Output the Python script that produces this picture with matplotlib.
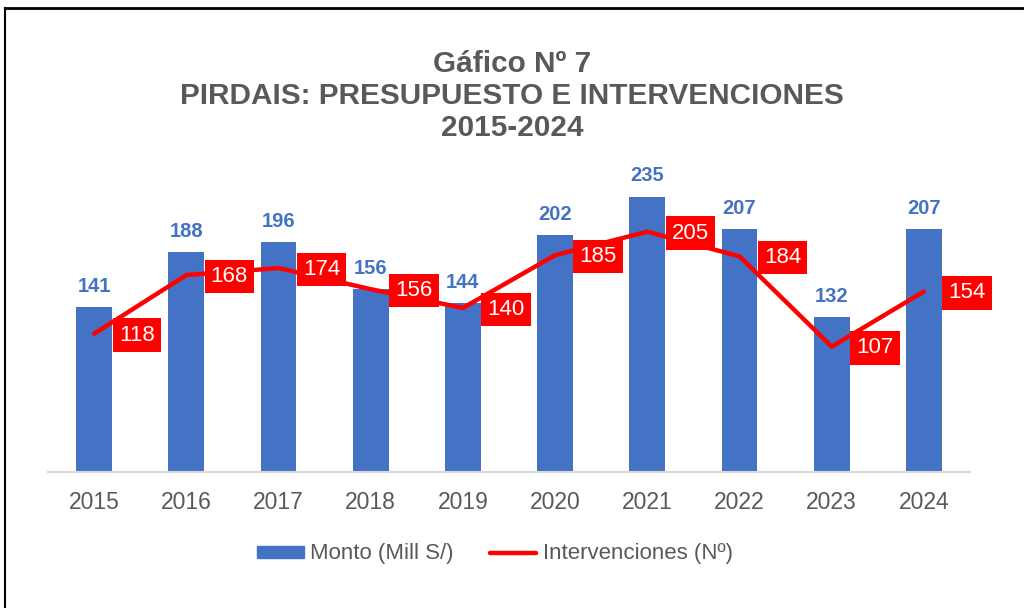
import matplotlib
matplotlib.use("Agg")
import matplotlib.pyplot as plt
from matplotlib.lines import Line2D

plt.rcParams['font.family'] = ['Liberation Sans', 'DejaVu Sans']

# data
years = ['2015', '2016', '2017', '2018', '2019', '2020', '2021', '2022', '2023', '2024']
monto = [141, 188, 196, 156, 144, 202, 235, 207, 132, 207]
intervenciones = [118, 168, 174, 156, 140, 185, 205, 184, 107, 154]

blue = '#4472C4'
red = '#FF0000'
grey = '#595959'

W, H = 1024, 608
fig = plt.figure(figsize=(W / 100, H / 100), dpi=100)
ax = fig.add_axes([48 / W, 1 - 472 / H, 922 / W, (472 - 179) / H])

x = list(range(len(years)))
bars = ax.bar(x, monto, width=0.39, color=blue, label='Monto (Mill S/)', zorder=2)
ax.plot(x, intervenciones, color=red, lw=3.2, solid_capstyle='round',
        solid_joinstyle='round', label='Intervenciones (Nº)', zorder=3)

for xi, v in zip(x, monto):
    ax.annotate(str(v), xy=(xi, v), xytext=(0, 8), textcoords='offset points',
                ha='center', va='bottom', fontsize=14.5, fontweight='bold',
                color=blue, annotation_clip=False)

for xi, v in zip(x, intervenciones):
    ax.annotate(str(v), xy=(xi, v), xytext=(31, -1), textcoords='offset points',
                ha='center', va='center', fontsize=16, color='white', zorder=5,
                bbox=dict(boxstyle='square,pad=0.28', facecolor=red, edgecolor='none'),
                annotation_clip=False)

ax.set_xlim(-0.5, len(years) - 0.5)
ax.set_ylim(0, 250)
ax.set_xticks(x)
ax.set_xticklabels(years, fontsize=16.5, color=grey)
ax.tick_params(axis='x', length=0, pad=14)
ax.set_yticks([])
for s in ['top', 'right', 'left']:
    ax.spines[s].set_visible(False)
ax.spines['bottom'].set_color('#D9D9D9')
ax.spines['bottom'].set_linewidth(1.5)

fig.text(0.5, 1 - 96 / H, 'Gáfico Nº 7\nPIRDAIS: PRESUPUESTO E INTERVENCIONES\n2015-2024',
         ha='center', va='center', fontsize=21.4, fontweight='bold', color=grey,
         linespacing=1.2)

handles = [plt.Rectangle((0, 0), 1, 1, color=blue),
           Line2D([0], [0], color=red, lw=3.2, solid_capstyle='round')]
fig.legend(handles, ['Monto (Mill S/)', 'Intervenciones (Nº)'], loc='center',
           bbox_to_anchor=(495 / W, 1 - 554 / H), ncol=2, frameon=False,
           fontsize=16, labelcolor=grey, handlelength=2.1, handleheight=0.45,
           handletextpad=0.3, columnspacing=1.6)

# figure border (top and left)
fig.add_artist(Line2D([5 / W, 1], [1 - 8 / H, 1 - 8 / H], color='black', lw=2, transform=fig.transFigure))
fig.add_artist(Line2D([5 / W, 5 / W], [0, 1 - 8 / H], color='black', lw=1.5, transform=fig.transFigure))

fig.savefig('out.png', dpi=100)
